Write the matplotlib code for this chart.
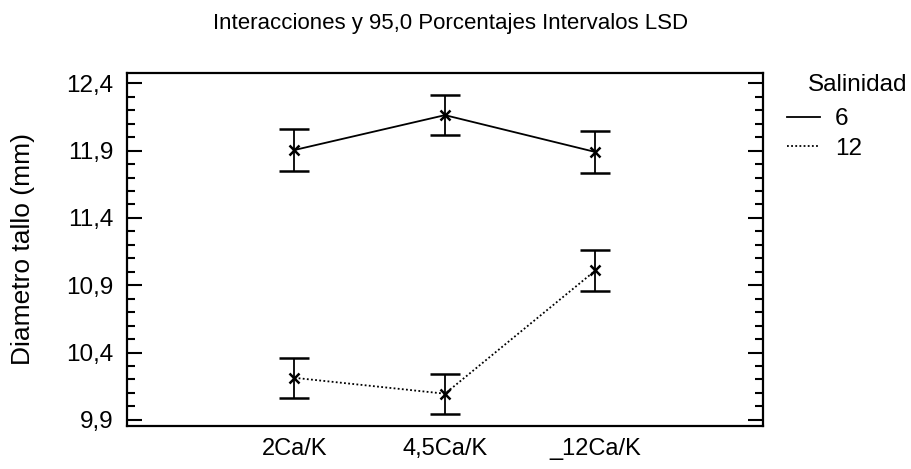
import matplotlib.pyplot as plt
import numpy as np
from matplotlib.ticker import MultipleLocator, FuncFormatter

plt.rcParams['font.family'] = ['Liberation Sans', 'DejaVu Sans']

categorias = ["2Ca/K", "4,5Ca/K", "_12Ca/K"]
media_6 = [11.905, 12.164, 11.89]
lsd_6 = [0.155, 0.149, 0.155]
media_12 = [10.212, 10.094, 11.01]
lsd_12 = [0.149, 0.149, 0.155]

fig = plt.figure(figsize=(9.11, 4.69), dpi=100)
ax = fig.add_axes([0.1394, 0.0917, 0.6981, 0.7526])

x = np.arange(1, len(categorias) + 1)

l6 = ax.errorbar(x, media_6, yerr=lsd_6, color='k', lw=1.3, elinewidth=1.3,
                 capsize=11, capthick=1.3, marker='x', ms=7, mew=1.8, label="6")
l12 = ax.errorbar(x, media_12, yerr=lsd_12, color='k', lw=1.3, ls=(0, (1, 1.3)),
                  elinewidth=1.3, capsize=11, capthick=1.3, marker='x', ms=7,
                  mew=1.8, label="12")
l12[-1][0].set_linestyle('-')

ax.set_xlim(2 - 2.113, 2 + 2.113)
ax.set_ylim(9.854, 12.477)
ax.set_xticks(x)
ax.set_xticklabels(categorias, fontsize=17)
ax.tick_params(axis='x', length=0, pad=9)

ax.set_yticks(np.arange(9.9, 12.45, 0.5))
ax.yaxis.set_minor_locator(MultipleLocator(0.1))
ax.yaxis.set_major_formatter(FuncFormatter(lambda v, p: f"{v:.1f}".replace('.', ',')))
ax.tick_params(axis='y', which='major', direction='in', length=11, width=1.5,
               right=True, labelsize=17.5, pad=10)
ax.tick_params(axis='y', which='minor', direction='in', length=6, width=1.5, right=True)

for s in ax.spines.values():
    s.set_linewidth(1.6)

fig.text(23 / 911, 1 - 249 / 469, "Diametro tallo (mm)", rotation=90,
         ha='center', va='center', fontsize=19)
fig.text(451 / 911, 1 - 24 / 469, "Interacciones y 95,0 Porcentajes Intervalos LSD",
         ha='center', va='center', fontsize=16)

# leyenda
fig.text(808 / 911, 1 - 85 / 469, "Salinidad", ha='left', va='center', fontsize=17.5)
leg = fig.legend(handles=[l6.lines[0], l12.lines[0]], labels=["6", "12"],
                 loc='upper left', bbox_to_anchor=(787 / 911, 1 - 108 / 469),
                 frameon=False, fontsize=17.5, handlelength=1.36, borderpad=0,
                 borderaxespad=0, handletextpad=0.6, labelspacing=0.32)
for h in leg.legend_handles:
    h.set_marker('')

fig.savefig("out.png", dpi=100)
